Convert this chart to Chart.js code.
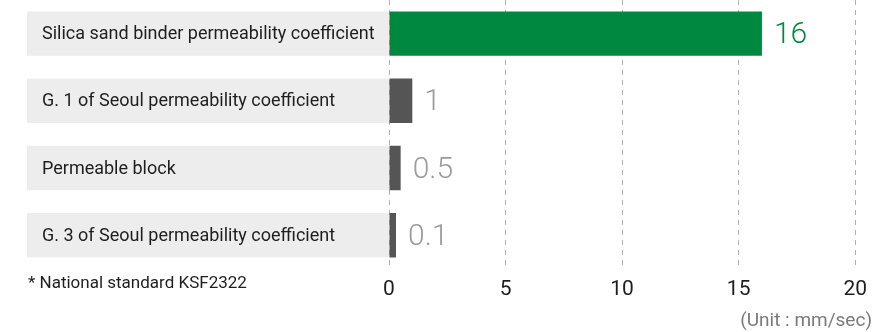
<!DOCTYPE html>
<html>
<head>
<meta charset="utf-8">
<script src="https://cdn.jsdelivr.net/npm/chart.js@4.4.1/dist/chart.umd.min.js"></script>
<style>
  body { margin: 0; background: #fff; }
  #wrap { width: 875px; height: 332px; }
</style>
</head>
<body>
<div id="wrap"><canvas id="permChart"></canvas></div>
<script>
// Datos del gráfico
const categories = [
    'Silica sand binder permeability coefficient',
    'G. 1 of Seoul permeability coefficient',
    'Permeable block',
    'G. 3 of Seoul permeability coefficient'
];
const values = [16, 1, 0.5, 0.1];
const valueLabels = ['16', '1', '0.5', '0.1'];
const xTicks = [0, 5, 10, 15, 20];
const footnote = '* National standard KSF2322';
const unitText = '(Unit : mm/sec)';

const green = '#00893e';
const barColors = [green, '#555555', '#555555', '#555555'];
const labelColors = [green, '#9b9b9b', '#9b9b9b', '#9b9b9b'];
const fontFamily = 'Roboto, "Noto Sans", sans-serif';

// Cajas grises con el nombre de cada categoría + etiquetas de valor
const decorPlugin = {
    id: 'decor',
    beforeDatasetsDraw(chart) {
        const ctx = chart.ctx;
        const meta = chart.getDatasetMeta(0);
        const left = chart.chartArea.left;
        ctx.save();
        meta.data.forEach((bar, i) => {
            const top = bar.y - bar.height / 2;
            ctx.fillStyle = '#ededed';
            ctx.fillRect(27, top, left - 27, bar.height);
            ctx.fillStyle = '#1e1e1e';
            ctx.font = '18px ' + fontFamily;
            ctx.textBaseline = 'middle';
            ctx.textAlign = 'left';
            ctx.fillText(categories[i], 42, bar.y + 1);
        });
        ctx.restore();
    },
    afterDatasetsDraw(chart) {
        const ctx = chart.ctx;
        const meta = chart.getDatasetMeta(0);
        ctx.save();
        meta.data.forEach((bar, i) => {
            ctx.fillStyle = labelColors[i];
            ctx.font = '300 30px ' + fontFamily;
            ctx.textBaseline = 'middle';
            ctx.textAlign = 'left';
            ctx.fillText(valueLabels[i], bar.x + 12, bar.y + 2);
        });
        ctx.restore();
    },
    afterDraw(chart) {
        const ctx = chart.ctx;
        ctx.save();
        ctx.textBaseline = 'middle';
        ctx.fillStyle = '#1e1e1e';
        ctx.font = '17px ' + fontFamily;
        ctx.textAlign = 'left';
        ctx.fillText(footnote, 28, 284);
        ctx.fillStyle = '#7a7a7a';
        ctx.font = '19px ' + fontFamily;
        ctx.textAlign = 'right';
        ctx.fillText(unitText, 872, 321);
        ctx.restore();
    }
};

document.addEventListener('DOMContentLoaded', function() {
    const ctx = document.getElementById('permChart').getContext('2d');
    new Chart(ctx, {
        type: 'bar',
        data: {
            labels: categories,
            datasets: [{
                data: values,
                backgroundColor: barColors,
                borderWidth: 0,
                barPercentage: 0.66,
                categoryPercentage: 1,
                minBarLength: 7
            }]
        },
        plugins: [decorPlugin],
        options: {
            indexAxis: 'y',
            responsive: true,
            maintainAspectRatio: false,
            animation: false,
            layout: { padding: { left: 389, right: 18, top: -4, bottom: 22 } },
            plugins: {
                legend: { display: false },
                tooltip: { enabled: false }
            },
            scales: {
                x: {
                    min: xTicks[0],
                    max: xTicks[xTicks.length - 1],
                    afterBuildTicks(axis) {
                        axis.ticks = xTicks.map(v => ({ value: v }));
                    },
                    grid: { color: '#b0b0b0', lineWidth: 1, drawTicks: false },
                    border: { display: false, dash: [5, 5] },
                    ticks: {
                        color: '#1e1e1e',
                        font: { family: fontFamily, size: 21 },
                        padding: 8
                    }
                },
                y: { display: false }
            }
        }
    });
});
</script>
</body>
</html>
